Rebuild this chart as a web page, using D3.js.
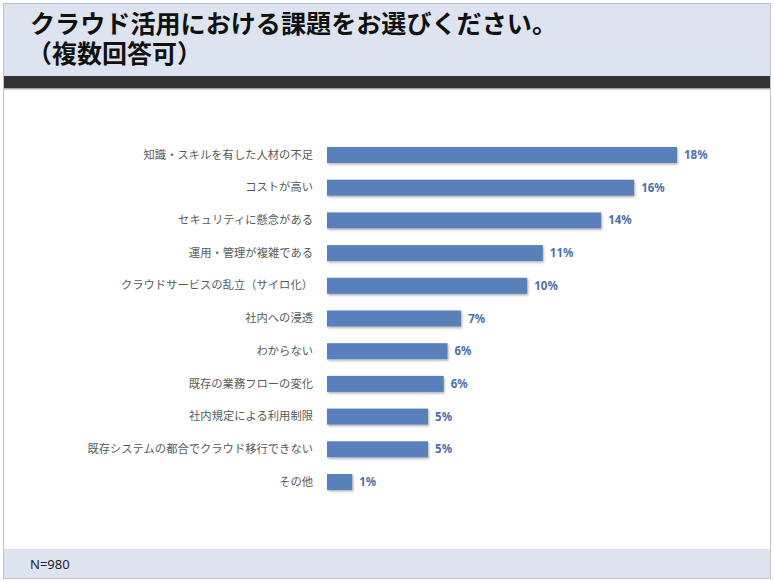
<!DOCTYPE html>
<html>
<head>
<meta charset="utf-8">
<script src="https://cdn.jsdelivr.net/npm/d3@7"></script>
<style>
html,body{margin:0;padding:0;background:#fff;}
svg{display:block;}
</style>
</head>
<body>
<svg id="chart" width="774" height="581"></svg>
<script>
const titleLine1 = "クラウド活用における課題をお選びください。";
const titleLine2 = "（複数回答可）";
const footnote = "N=980";
const categories = [
  "知識・スキルを有した人材の不足",
  "コストが高い",
  "セキュリティに懸念がある",
  "運用・管理が複雑である",
  "クラウドサービスの乱立（サイロ化）",
  "社内への浸透",
  "わからない",
  "既存の業務フローの変化",
  "社内規定による利用制限",
  "既存システムの都合でクラウド移行できない",
  "その他"
];
const values = [18.0, 15.8, 14.1, 11.1, 10.3, 6.9, 6.2, 6.0, 5.2, 5.2, 1.3];
const valueLabels = ["18%", "16%", "14%", "11%", "10%", "7%", "6%", "6%", "5%", "5%", "1%"];

const svg = d3.select("#chart");
const font = "'Noto Sans CJK JP', 'Noto Sans', sans-serif";
const titleFont = "'Liberation Sans', 'Noto Sans CJK JP', sans-serif";

const defs = svg.append("defs");
const f = defs.append("filter").attr("id","sh").attr("x","-5%").attr("y","-30%").attr("width","115%").attr("height","180%");
f.append("feDropShadow").attr("dx",1).attr("dy",1.5).attr("stdDeviation",1.2)
  .attr("flood-color","#000").attr("flood-opacity",0.3);

svg.append("rect").attr("x",3.5).attr("y",3.5).attr("width",767).attr("height",575)
  .attr("fill","#fff").attr("stroke","#b8c6cc").attr("stroke-width",1);
svg.append("rect").attr("x",4).attr("y",4).attr("width",766).attr("height",72).attr("fill","#dde4ef");
svg.append("rect").attr("x",4).attr("y",76).attr("width",766).attr("height",12).attr("fill","#333333");
svg.append("rect").attr("x",4).attr("y",88).attr("width",766).attr("height",1.5).attr("fill","#a8a8a8");
svg.append("rect").attr("x",4).attr("y",549).attr("width",766).attr("height",29).attr("fill","#dde4ef");

svg.append("text").attr("x",30).attr("y",33).text(titleLine1)
  .attr("font-family",titleFont).attr("font-weight",700).attr("font-size",25).attr("fill","#111")
  .attr("textLength",527).attr("lengthAdjust","spacingAndGlyphs");
svg.append("text").attr("x",27).attr("y",63).text(titleLine2)
  .attr("font-family",titleFont).attr("font-weight",700).attr("font-size",25).attr("fill","#111");

svg.append("text").attr("x",30).attr("y",569).text(footnote)
  .attr("font-family","'Noto Sans', sans-serif").attr("font-size",13).attr("fill","#222");

const y = d3.scaleBand().domain(categories).range([138.65, 498.35]).paddingInner(0.51).paddingOuter(0.255);
const x = d3.scaleLinear().domain([0, 18]).range([327, 677]);

const g = svg.append("g");
g.selectAll("rect.bar").data(values).join("rect").attr("class","bar")
  .attr("x", x(0)).attr("y",(d,i)=>y(categories[i]))
  .attr("width", d=>x(d)-x(0)).attr("height", y.bandwidth())
  .attr("fill","#5a80bb").attr("filter","url(#sh)");

const yAxis = d3.axisLeft(y).tickSize(0).tickPadding(14);
const ag = svg.append("g").attr("transform",`translate(${x(0)},0)`).call(yAxis);
ag.select(".domain").remove();
ag.selectAll("text").attr("font-family",font).attr("font-size",11.3).attr("fill","#595959");

g.selectAll("text.val").data(values).join("text").attr("class","val")
  .attr("x", d=>x(d)+7).attr("y",(d,i)=>y(categories[i])+y.bandwidth()/2)
  .attr("dy","0.35em").text((d,i)=>valueLabels[i])
  .attr("font-family","'Noto Sans', sans-serif").attr("font-weight",700).attr("font-size",11.5).attr("fill","#4a70aa");
</script>
</body>
</html>
